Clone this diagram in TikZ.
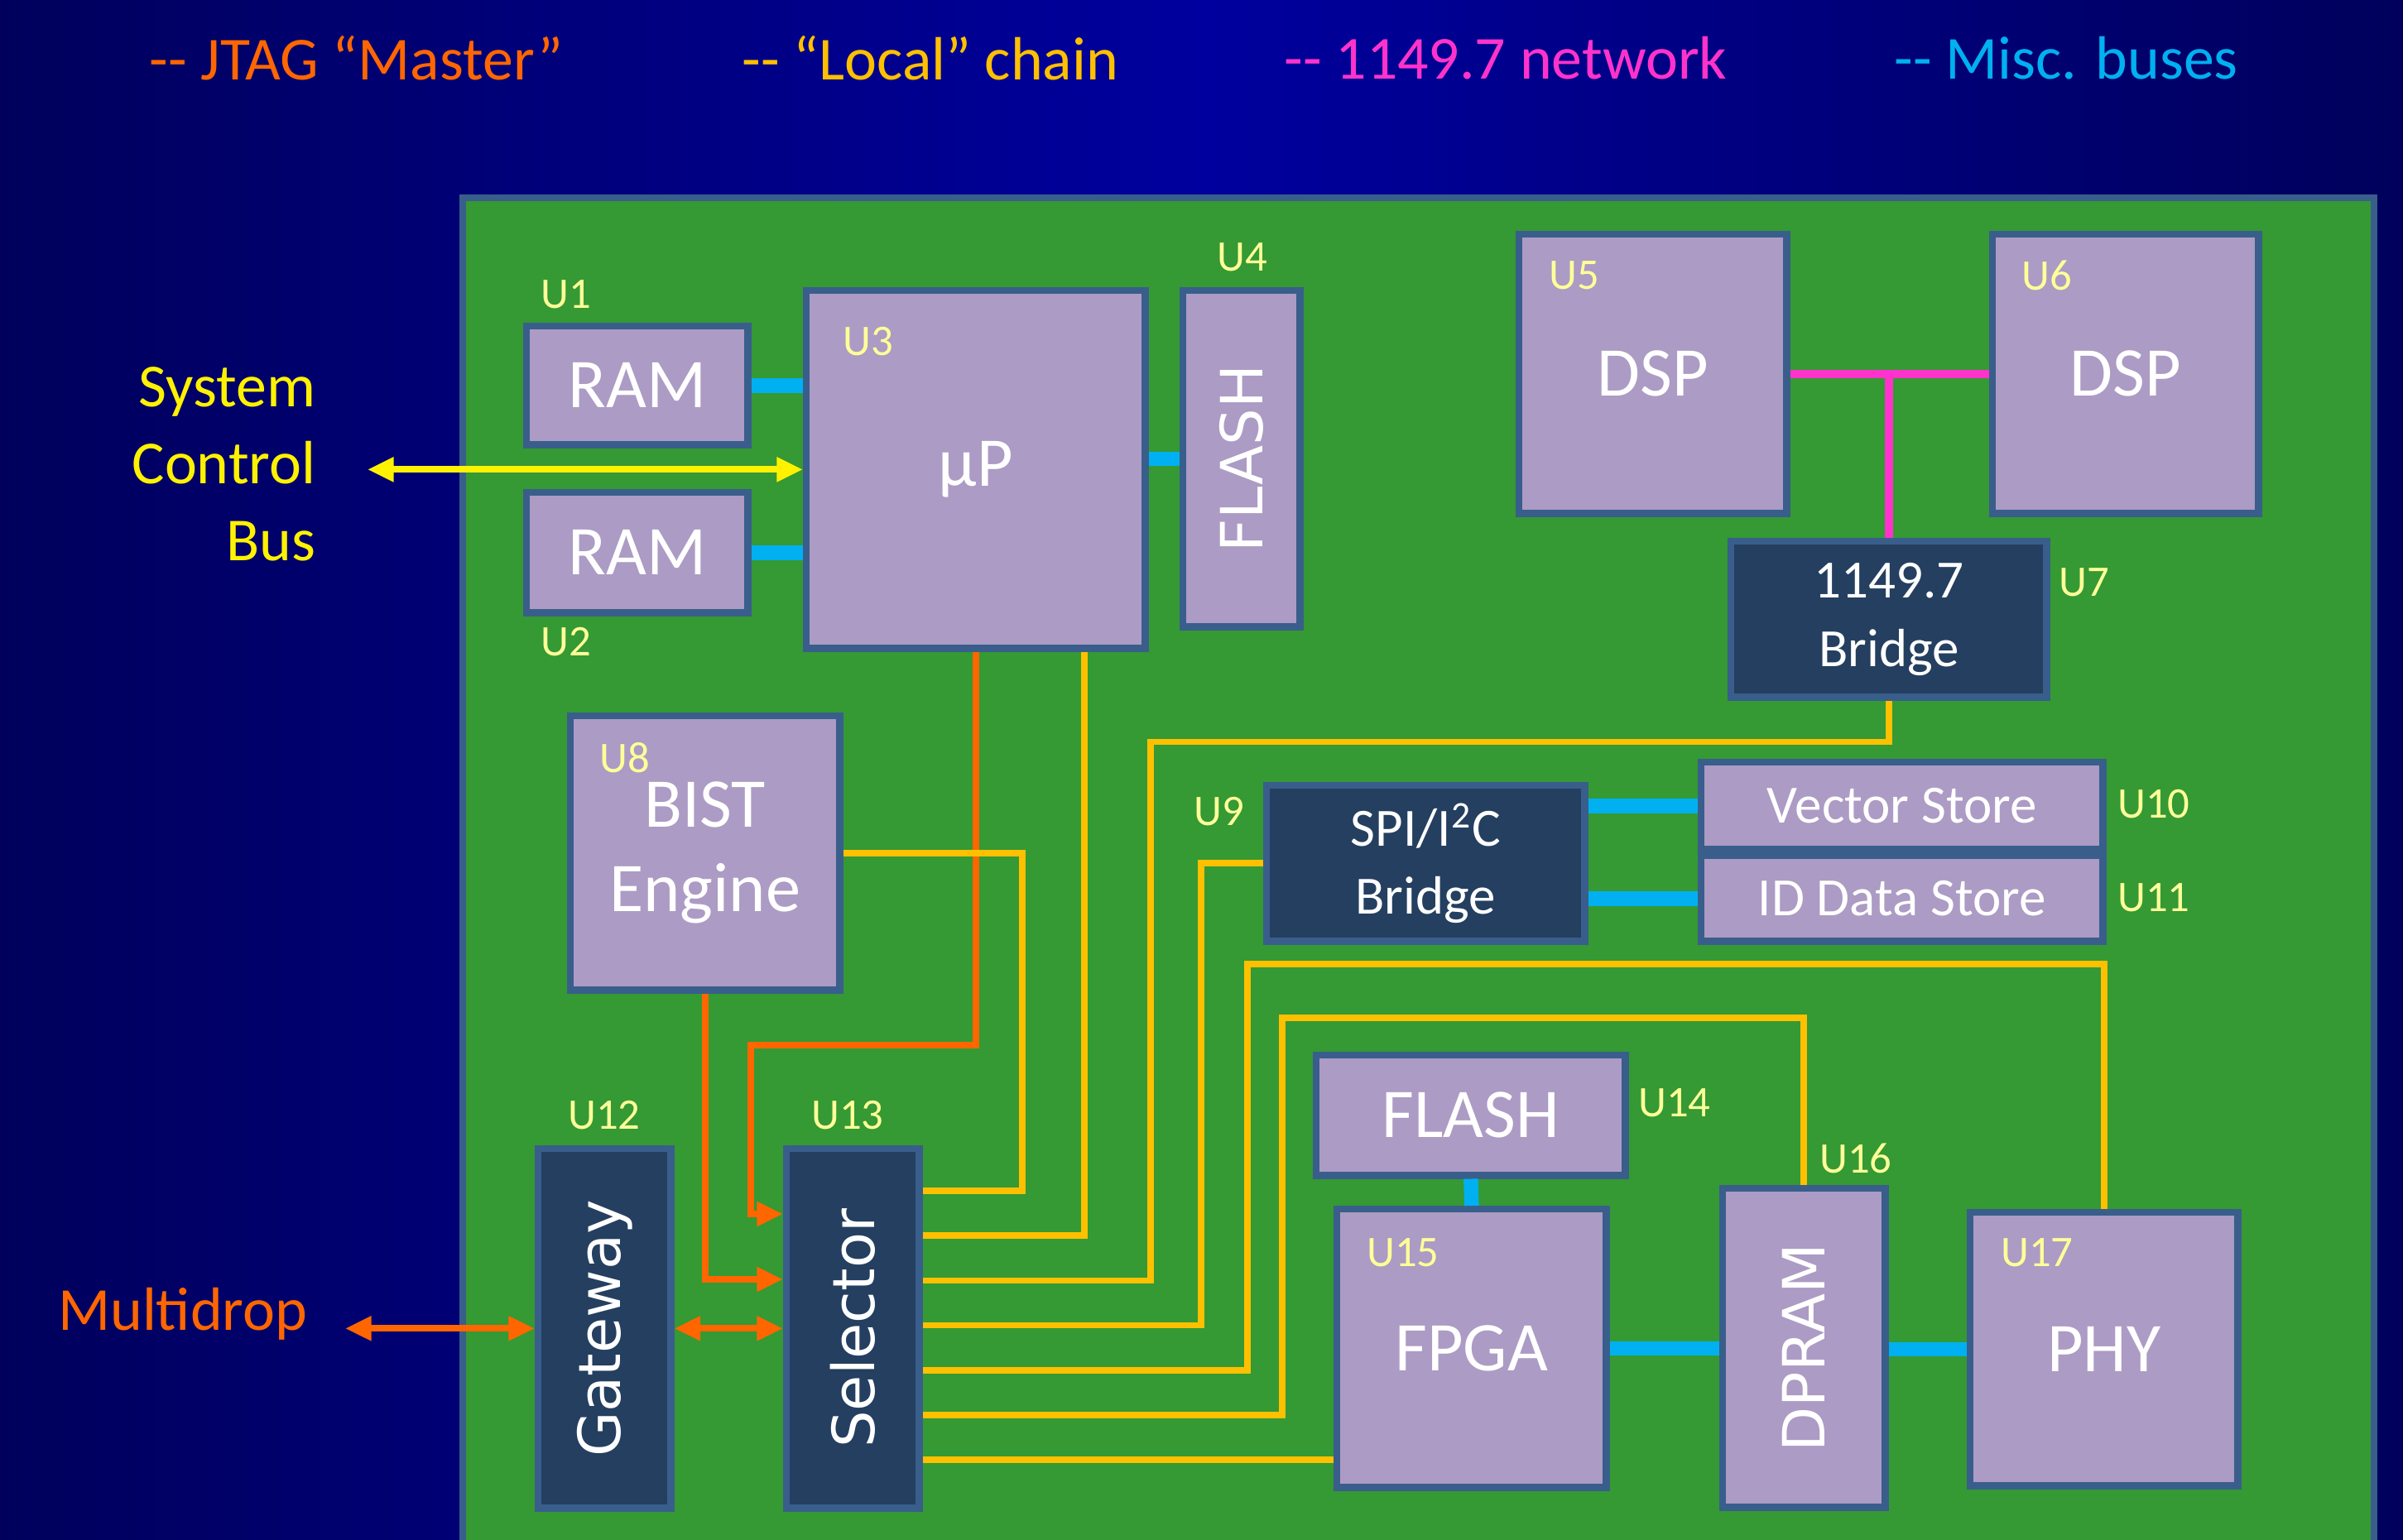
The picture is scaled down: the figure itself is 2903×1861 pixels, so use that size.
\documentclass[tikz,border=0pt]{standalone}
\usepackage{fontspec}
\setmainfont{Carlito}
\newfontfamily\widefont{DejaVu Sans}
\usetikzlibrary{arrows.meta,positioning,calc}

\definecolor{cBgEdge}{HTML}{00005C}
\definecolor{cBgMid}{HTML}{00009E}
\definecolor{cBoard}{HTML}{359934}
\definecolor{cEdge}{HTML}{395E8B}
\definecolor{cChip}{HTML}{AC9BC4}
\definecolor{cDark}{HTML}{243F60}
\definecolor{cBus}{HTML}{00B0F0}
\definecolor{cNet}{HTML}{FF33CC}
\definecolor{cChain}{HTML}{FFC000}
\definecolor{cJtag}{HTML}{FF6600}
\definecolor{cTag}{HTML}{FFFF99}

\begin{document}
\begin{tikzpicture}[x=0.01cm,y=-0.01cm,
  chipbox/.style={draw=cEdge, line width=2.4pt, fill=cChip, text=white,
    anchor=north west, inner sep=0pt, align=center,
    font=\fontsize{24}{29}\selectfont},
  darkbox/.style={chipbox, fill=cDark, font=\fontsize{18.5}{23.5}\selectfont},
  utag/.style={text=cTag, inner sep=0pt, font=\fontsize{15}{18}\selectfont},
  legend/.style={anchor=west, inner sep=0pt, font=\fontsize{21}{25}\selectfont},
  busline/.style={draw=cBus, line width=5pt},
  netline/.style={draw=cNet, line width=2.8pt},
  chainline/.style={draw=cChain, line width=2.2pt},
  jtagline/.style={draw=cJtag, line width=2.2pt},
  sysline/.style={draw=yellow, line width=2.3pt},
  tip/.style={arrows={-{Triangle[length=9pt,width=8pt]}}},
  tips/.style={arrows={{Triangle[length=9pt,width=8pt]}-{Triangle[length=9pt,width=8pt]}}}]

\useasboundingbox (0,0) rectangle (2903,1861);
\shade[left color=cBgEdge, right color=cBgEdge, middle color=cBgMid] (0,0) rectangle (2903,1861);

% legend
\node[legend, text=cJtag] (lgjtag) at (180,70) {-{}- JTAG “Master”};
\node[legend, text=cChain] (lglocal) at (896,70) {-{}- “Local” chain};
\node[legend, text=cNet] (lgnet) at (1551,70) {-{}- 1149.7 network};
\node[legend, text=cBus] (lgbus) at (2288,70) {-{}- Misc. buses};

% board
\draw[draw=cEdge, line width=2.4pt, fill=cBoard] (559,239) rectangle (2868,1900);

% parts
\node[chipbox, minimum width=2.67cm, minimum height=1.43cm] (u1) at (632,390) {RAM};
\node[chipbox, minimum width=2.67cm, minimum height=1.45cm] (u2) at (632,591) {RAM};
\node[chipbox, minimum width=4.09cm, minimum height=4.32cm] (u3) at (970,347) {µP};
\node[chipbox, minimum width=1.41cm, minimum height=4.06cm] (u4) at (1425,347)
  {\rotatebox{90}{\widefont\fontsize{20}{24}\selectfont FLASH}};
\node[chipbox, minimum width=3.23cm, minimum height=3.37cm] (u5) at (1831,279) {DSP};
\node[chipbox, minimum width=3.21cm, minimum height=3.37cm] (u6) at (2403,279) {DSP};
\node[darkbox, minimum width=3.81cm, minimum height=1.88cm] (u7) at (2087,650) {1149.7\\Bridge};
\node[chipbox, minimum width=3.25cm, minimum height=3.31cm] (u8) at (685,861) {BIST\\Engine};
\node[darkbox, minimum width=3.84cm, minimum height=1.88cm] (u9) at (1526,945) {SPI/I\textsuperscript{2}C\\Bridge};
\node[chipbox, minimum width=4.85cm, minimum height=1.05cm,
  font=\fontsize{18.5}{22}\selectfont] (u10) at (2051,917) {Vector Store};
\node[chipbox, minimum width=4.85cm, minimum height=1.03cm,
  font=\fontsize{18.5}{22}\selectfont] (u11) at (2051,1030) {ID Data Store};
\node[darkbox, minimum width=1.60cm, minimum height=4.34cm] (u12) at (646,1384)
  {\rotatebox{90}{\widefont\fontsize{20}{24}\selectfont Gateway}};
\node[darkbox, minimum width=1.60cm, minimum height=4.34cm] (u13) at (946,1384)
  {\rotatebox{90}{\widefont\fontsize{20}{24}\selectfont Selector}};
\node[chipbox, minimum width=3.73cm, minimum height=1.45cm] (u14) at (1586,1271) {FLASH};
\node[chipbox, minimum width=3.25cm, minimum height=3.36cm] (u15) at (1611,1457) {FPGA};
\node[chipbox, minimum width=1.96cm, minimum height=3.85cm] (u16) at (2077,1432)
  {\rotatebox{90}{\widefont\fontsize{20}{24}\selectfont DPRAM}};
\node[chipbox, minimum width=3.23cm, minimum height=3.30cm] (u17) at (2376,1461) {PHY};

% reference designators
\node[utag] (t1) at (684,356) {U1};
\node[utag] (t2) at (684,776) {U2};
\node[utag] (t3) at (1049,413) {U3};
\node[utag] (t4) at (1501,311) {U4};
\node[utag] (t5) at (1902,333) {U5};
\node[utag] (t6) at (2473,333) {U6};
\node[utag] (t7) at (2518,704) {U7};
\node[utag] (t8) at (755,916) {U8};
\node[utag] (t9) at (1473,981) {U9};
\node[utag] (t10) at (2602,972) {U10};
\node[utag] (t11) at (2602,1085) {U11};
\node[utag] (t12) at (730,1348) {U12};
\node[utag] (t13) at (1024,1348) {U13};
\node[utag] (t14) at (2023,1333) {U14};
\node[utag] (t15) at (1695,1514) {U15};
\node[utag] (t16) at (2242,1400) {U16};
\node[utag] (t17) at (2461,1514) {U17};

% outside connections
\node[anchor=east, align=right, text=yellow, inner sep=0pt,
  font=\fontsize{21}{26.5}\selectfont] (scb) at (382,561) {System\\Control\\Bus};
\node[anchor=east, text=cJtag, inner sep=0pt,
  font=\fontsize{21}{25}\selectfont] (mdl) at (372,1588) {Multidrop};
\coordinate (sb) at ($(u3.west)+(-526,0)$);
\coordinate (md) at ($(u12.west)+(-229,0)$);
\draw[sysline, tips] (sb) -- (u3.west);
\draw[jtagline, tips] (md) -- (u12.west);
\draw[jtagline, tips] (u12.east) -- (u13.west);

% misc buses
\draw[busline] (u1.east) -- (u1.east -| u3.west);
\draw[busline] (u2.east) -- (u2.east -| u3.west);
\draw[busline] (u4.west -| u3.east) -- (u4.west);
\draw[busline] (u10.west -| u9.east) -- (u10.west);
\draw[busline] (u11.west -| u9.east) -- (u11.west);
\draw[busline] (u14.south) -- (u15.north);
\draw[busline] (u15.east) -- (u15.east -| u16.west);
\draw[busline] (u17.west -| u16.east) -- (u17.west);

% 1149.7 network
\draw[netline] (u5.east) -- (u6.west);
\draw[netline] (u7.north) -- (u7.north |- u5.east);

% jtag master into selector
\coordinate (q1) at ($(u13.north west)+(0,83)$);
\coordinate (q2) at ($(u13.north west)+(0,162)$);
\draw[jtagline, tip] (u3.south) -- ++(0,475) -| ($(q1)+(-39,0)$) -- (q1);
\draw[jtagline, tip] (u8.south) |- (q2);

% local chain out of selector
\foreach \i in {1,...,7}
  \coordinate (p\i) at ($(u13.north east)+(0,{55+54.2*(\i-1)})$);
\draw[chainline] (u8.east) -- ++(216,0) |- (p1);
\draw[chainline] ($(u3.south east)+(-78,0)$) |- (p2);
\draw[chainline] (u7.south) -- ++(0,50) -- ++(-892,0) |- (p3);
\draw[chainline] (u9.west) -- ++(-75,0) |- (p4);
\draw[chainline] (u17.north) -- ++(0,-296) -- ++(-1035,0) |- (p5);
\draw[chainline] (u16.north) -- ++(0,-202) -- ++(-630,0) |- (p6);
\draw[chainline] (p7) -- (p7 -| u15.west);
\end{tikzpicture}
\end{document}
